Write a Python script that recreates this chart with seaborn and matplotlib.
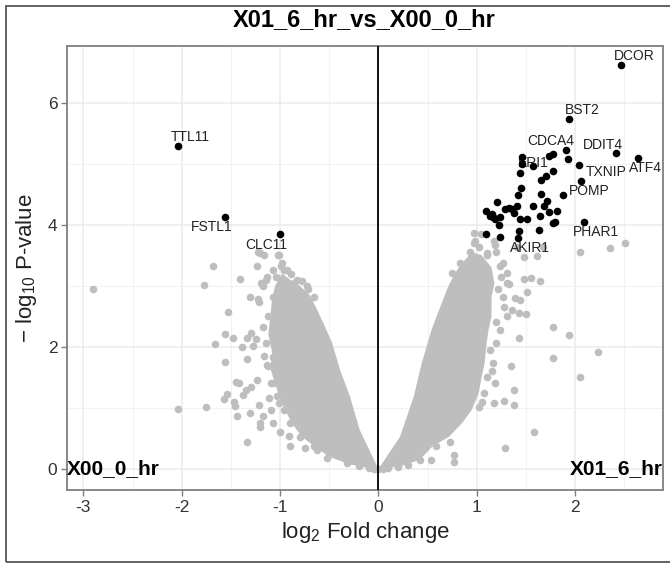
import matplotlib
matplotlib.use("Agg")
import numpy as np
import pandas as pd
import seaborn as sns
import matplotlib.pyplot as plt
from matplotlib.patches import Rectangle

# ---------------- data ----------------
title = "X01_6_hr_vs_X00_0_hr"
left_group = "X00_0_hr"
right_group = "X01_6_hr"
x_ticks = [-3, -2, -1, 0, 1, 2]
y_ticks = [0, 2, 4, 6]

# significant genes (black)
sig_x = [2.47, 1.94, 2.42, 2.64, 1.91, 1.93, 2.04, 2.06, 1.88, 2.09,
         1.78, 1.73, 1.46, 1.46, 1.57, 1.78, 1.44, 1.70, 1.65, 1.45,
         1.42, 1.65, 1.21, 1.71, 1.41, 1.33, 1.29, 1.57, 1.68, 1.09,
         1.15, 1.24, 1.73, 1.82, 1.44, 1.51, 1.64, 1.19, 1.23, 1.80,
         1.78, 1.63, 1.09, 1.24, 1.43, 1.42, -2.04, -1.56, -1.00, 1.13,
         1.17, 1.36, 1.38]
sig_y = [6.61, 5.73, 5.18, 5.09, 5.22, 5.08, 4.97, 4.72, 4.49, 4.04,
         5.16, 5.12, 5.10, 4.99, 4.96, 4.88, 4.85, 4.80, 4.73, 4.60,
         4.48, 4.51, 4.37, 4.39, 4.31, 4.28, 4.25, 4.30, 4.30, 4.23,
         4.18, 4.12, 4.21, 4.22, 4.10, 4.10, 4.14, 4.10, 4.00, 4.05,
         4.02, 3.92, 3.85, 3.80, 3.89, 3.78, 5.28, 4.13, 3.84, 4.15,
         4.12, 4.25, 4.19]
sig_gene = ["DCOR", "BST2", "DDIT4", "ATF4", "CDCA4", "", "TXNIP", "POMP", "", "PHAR1",
            "", "", "", "ERI1", "", "", "", "", "", "",
            "", "", "", "", "", "", "", "", "", "",
            "", "", "", "", "", "", "", "", "", "",
            "", "", "", "", "", "AKIR1", "TTL11", "FSTL1", "CLC11", "",
            "", "", ""]

# dense core of the non-significant cloud (outline of the solid grey area)
core_left_x = [0.00, -0.19, -0.29, -0.39, -0.47, -0.56, -0.63, -0.70, -0.80, -0.90,
               -0.98, -1.05, -1.08, -1.10, -1.12, -1.08, -1.10, -1.05, -1.01, -0.95,
               -0.88, -0.78, -0.65, -0.50, -0.30, -0.12]
core_left_y = [0.00, 0.64, 1.19, 1.62, 2.06, 2.39, 2.63, 2.85, 3.00, 3.10,
               3.20, 3.00, 2.80, 2.50, 2.20, 1.90, 1.65, 1.40, 1.19, 0.97,
               0.75, 0.53, 0.37, 0.20, 0.08, 0.02]
core_right_x = [0.00, 0.12, 0.22, 0.42, 0.55, 0.72, 0.85, 0.95, 1.02, 1.05,
                1.08, 1.10, 1.12, 1.15, 1.15, 1.18, 1.15, 1.05, 0.95, 0.85,
                0.78, 0.71, 0.63, 0.54, 0.44, 0.36, 0.22]
core_right_y = [0.00, 0.02, 0.04, 0.15, 0.37, 0.53, 0.75, 0.97, 1.24, 1.51,
                1.73, 2.06, 2.28, 2.50, 2.82, 3.04, 3.30, 3.50, 3.55, 3.37,
                3.21, 2.99, 2.66, 2.28, 1.73, 1.19, 0.53]

# individual non-significant genes outside / on the edge of the core
grey_x = [-2.90, -2.04, -1.75, -1.77, -1.68, -1.41, -1.53, -1.56, -1.66, -1.48,
          -1.56, -1.39, -1.34, -1.30, -1.24, -1.28, -1.34, -1.31, -1.22, -1.21,
          -1.23, -1.20, -1.16, -1.01, -1.19, -1.17, -1.13, -1.45, -1.42, -1.54,
          -1.57, -1.47, -1.46, -1.38, -1.35, -1.30, -1.23, -1.44, -1.31, -1.21,
          -1.20, -1.20, -1.34, -1.17, -1.07, -1.09, -1.11, -1.01, -1.00, -0.90,
          -0.91, -0.75, -0.62, -0.52, -1.16, -1.09, -1.13, -0.99, -0.96, -1.22,
          -1.17, -1.14, -1.07, -1.12, -1.07, -1.03, -0.96, -0.90, -0.80, -0.66,
          -1.12, -1.07, -1.14, -1.07, -1.02, -0.98, -0.93, -0.83, -0.73, -0.66,
          -0.89, -0.86, -0.78, -0.72, -0.95, -1.04,
          2.51, 2.36, 2.05, 1.61, 1.48, 1.55, 1.64, 1.51, 1.39, 1.44,
          1.36, 1.43, 1.50, 1.78, 1.94, 1.43, 1.78, 2.23, 2.05, 1.35,
          1.38, 1.28, 1.38, 1.18, 1.19, 1.58, 1.29, 0.77, 0.77, 0.53,
          0.73, 1.02, 0.97, 1.02, 1.19, 1.10, 1.20, 1.27, 1.31, 1.33,
          1.48, 0.97, 1.04, 0.98, 1.18, 1.41, 1.67, 1.20, 1.24, 1.31,
          1.27, 1.31, 1.24, 1.10, 1.17, 1.10, 1.07, 1.20, 1.28, 1.22,
          1.25, 1.13, 1.15, 1.05, 0.93, 0.83, 0.75,
          0.00, -0.10, 0.10, -0.20, 0.20, -0.05, 0.05, 0.30, -0.32, 0.42, 0.59]
grey_y = [2.95, 0.98, 1.02, 3.01, 3.33, 3.11, 2.57, 2.21, 2.04, 2.14,
          1.75, 2.00, 2.14, 2.22, 2.13, 2.02, 1.80, 2.82, 2.79, 2.73,
          3.33, 3.54, 3.51, 3.51, 3.04, 2.99, 3.15, 1.43, 1.40, 1.23,
          1.14, 1.10, 1.03, 1.21, 1.30, 1.34, 1.45, 0.87, 0.92, 1.05,
          0.75, 0.68, 0.44, 0.86, 0.76, 0.97, 1.16, 1.08, 0.61, 0.37,
          0.54, 0.34, 0.31, 0.18, 1.85, 1.40, 1.70, 3.33, 3.26, 3.56,
          2.33, 2.06, 1.84, 1.68, 1.40, 1.19, 0.97, 0.75, 0.53, 0.37,
          2.50, 2.82, 3.10, 3.26, 3.51, 3.37, 3.26, 3.10, 2.99, 2.82,
          3.20, 3.05, 3.08, 2.95, 2.95, 3.15,
          3.70, 3.62, 3.55, 3.49, 3.47, 3.13, 3.07, 2.89, 2.80, 2.76,
          2.61, 2.56, 2.54, 2.33, 2.19, 2.14, 1.82, 1.91, 1.51, 1.69,
          1.30, 1.12, 1.05, 1.08, 1.40, 0.61, 0.35, 0.23, 0.12, 0.14,
          0.45, 1.02, 3.70, 3.64, 3.67, 3.51, 3.56, 3.37, 3.21, 3.03,
          3.11, 3.87, 3.85, 3.73, 3.74, 3.64, 3.63, 2.06, 2.28, 2.50,
          2.82, 3.04, 3.32, 3.54, 1.73, 1.51, 1.24, 2.40, 2.65, 2.95,
          3.15, 1.95, 1.60, 1.10, 3.56, 3.37, 3.21,
          0.00, 0.02, 0.02, 0.05, 0.04, 0.00, 0.00, 0.06, 0.09, 0.15, 0.37]

grey_df = pd.DataFrame({"log2FC": grey_x, "nlog10p": grey_y})
sig_df = pd.DataFrame({"log2FC": sig_x, "nlog10p": sig_y, "gene": sig_gene})

# label offsets in pixels (dx right, dy down) relative to the point
label_offset_px = {
    "DCOR": (13, -9), "BST2": (13, -9), "CDCA4": (-15, -9), "DDIT4": (-13, -8),
    "ATF4": (7, 10), "TXNIP": (27, 7), "ERI1": (11, -1), "POMP": (8, 10),
    "PHAR1": (12, 10), "AKIR1": (12, 10), "TTL11": (12, -9), "FSTL1": (-13, 10),
    "CLC11": (-14, 11),
}

# ---------------- style ----------------
sns.set_theme(style="white")
plt.rcParams['font.family'] = ['Liberation Sans', 'DejaVu Sans']
plt.rcParams['mathtext.default'] = 'regular'

GREY = "#BEBEBE"
W, H = 670, 563
fig = plt.figure(figsize=(W / 100, H / 100), dpi=100)
ax = fig.add_axes([67 / W, 1 - 490 / H, (663 - 67) / W, (490 - 46) / H])

ax.set_xlim(-3.167, 2.894)
ax.set_ylim(-0.344, 6.925)

ax.set_xticks(x_ticks)
ax.set_xticks([-2.5, -1.5, -0.5, 0.5, 1.5, 2.5], minor=True)
ax.set_yticks(y_ticks)
ax.set_yticks([1, 3, 5], minor=True)
ax.set_xticklabels([str(t) for t in x_ticks])
ax.set_yticklabels([str(t) for t in y_ticks])
ax.grid(True, which="major", color="#EBEBEB", lw=1.1, zorder=0)
ax.grid(True, which="minor", color="#F2F2F2", lw=0.8, zorder=0)
ax.set_axisbelow(True)

ax.tick_params(axis="both", which="major", length=4, width=1, color="#7F7F7F",
               labelsize=12.5, labelcolor="#333333", pad=3, bottom=True, left=True)
ax.tick_params(axis="both", which="minor", length=0)
for s in ax.spines.values():
    s.set_color("#7F7F7F")
    s.set_linewidth(1.3)

# dense core
ax.fill(core_left_x, core_left_y, color=GREY, lw=0, zorder=2)
ax.fill(core_right_x, core_right_y, color=GREY, lw=0, zorder=2)

sns.scatterplot(data=grey_df, x="log2FC", y="nlog10p", ax=ax, color=GREY,
                s=30, linewidth=0, zorder=3, legend=False)
sns.scatterplot(data=sig_df, x="log2FC", y="nlog10p", ax=ax, color="black",
                s=30, linewidth=0, zorder=5, legend=False)

ax.axvline(0, color="black", lw=1.3, zorder=4)

for gx, gy, g in zip(sig_x, sig_y, sig_gene):
    if g:
        dx, dy = label_offset_px[g]
        ax.annotate(g, (gx, gy), xytext=(dx * 0.72, -dy * 0.72),
                    textcoords="offset points", ha="center", va="center",
                    fontsize=10, color="#222222", zorder=4.5)

ax.text(-3.167, 0, left_group, ha="left", va="center", fontsize=15,
        fontweight="bold", color="black", zorder=6)
ax.text(2.894, 0, right_group, ha="right", va="center", fontsize=15,
        fontweight="bold", color="black", zorder=6)

ax.set_xlabel("log$_2$ Fold change", fontsize=16, color="#222222", labelpad=4)
ax.set_ylabel("$-$ log$_{10}$ P-value", fontsize=16, color="#222222", labelpad=6)

fig.text(364.5 / W, 1 - 20 / H, title, ha="center", va="center",
         fontsize=17, fontweight="bold", color="black")

fig.add_artist(Rectangle((6 / W, 1 - 562 / H), 1.2, (562 - 6) / H,
                         transform=fig.transFigure, fill=False,
                         ec="#555555", lw=1.3))

fig.savefig("out.png", dpi=100)
